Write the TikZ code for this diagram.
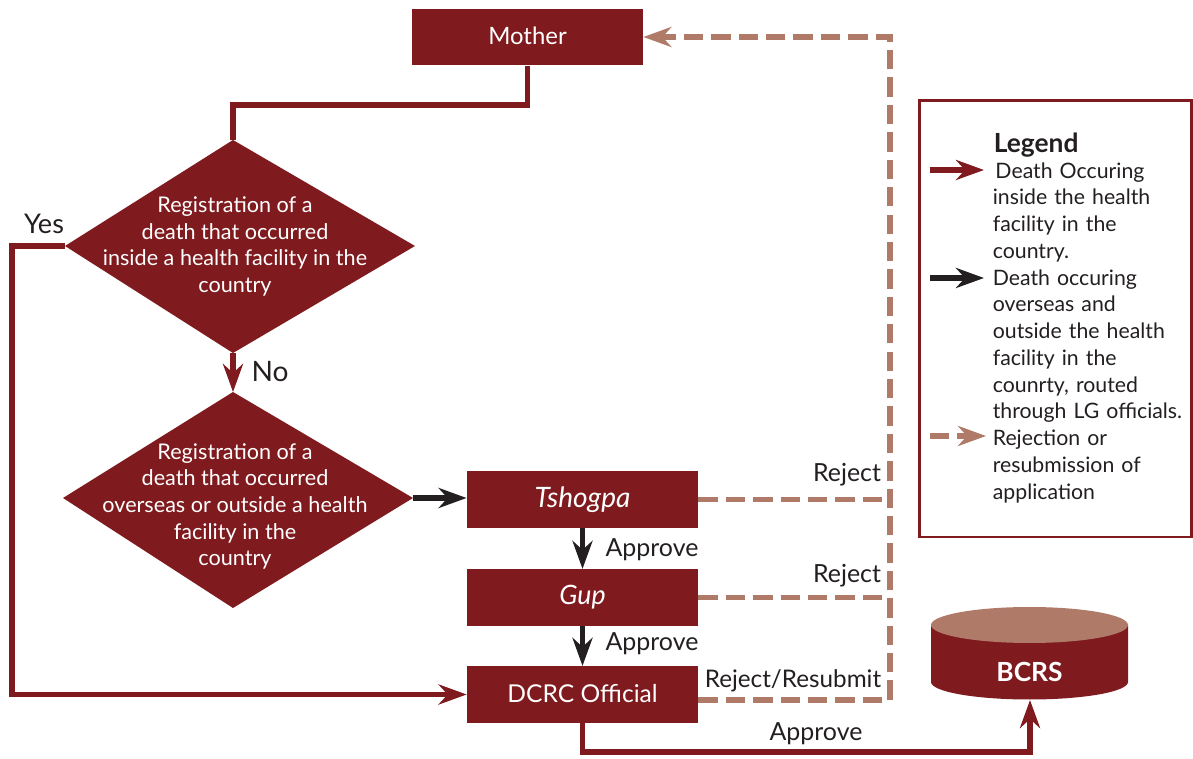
\documentclass[tikz,border=0pt]{standalone}
\usepackage{fontspec}
\setmainfont{Lato}
\usetikzlibrary{arrows.meta}
\definecolor{wine}{HTML}{7F1A1E}
\definecolor{tan}{HTML}{B07A68}
\definecolor{ink}{HTML}{231F20}
\tikzset{
  boxnode/.style={fill=wine,text=white,minimum width=231*0.02cm,minimum height=56.5*0.02cm,inner sep=0pt},
  flowtext/.style={text=white,align=center,inner sep=0pt,font=\fontsize{12.3}{15.2}\selectfont},
  lbl/.style={text=ink,inner sep=0pt,font=\fontsize{14.2}{15.2}\selectfont},
  legendtext/.style={text=ink,align=left,anchor=north west,inner sep=0pt,text width=198*0.02cm,font=\fontsize{12.1}{15.25}\selectfont},
  tip/.style={-{Stealth[length=28*0.02cm,width=20*0.02cm,inset=9*0.02cm]}},
  redline/.style={draw=wine,line width=2.9pt,line join=miter},
  blackline/.style={draw=ink,line width=2.9pt},
  rejectline/.style={draw=tan,line width=2.9pt,dash pattern=on 11pt off 4.6pt}
}
\begin{document}
\begin{tikzpicture}[x=0.02cm,y=-0.02cm]
  \useasboundingbox (0,0) rectangle (1193,759);

  \node[boxnode,font=\fontsize{13.6}{15.2}\selectfont] (mother) at (527.5,37) {\raisebox{1.1pt}{Mother}};
  \node[boxnode,font=\fontsize{16}{15.2}\selectfont\itshape] (tshogpa) at (582.5,499.5) {Tshogpa};
  \node[boxnode,font=\fontsize{15.2}{15.2}\selectfont\itshape] (gup) at (582.5,597.5) {\raisebox{1pt}{Gup}};
  \node[boxnode,font=\fontsize{14}{15.2}\selectfont] (dcrc) at (582.5,694.5) {\raisebox{1.4pt}{DCRC Official}};

  % first decision
  \coordinate (dOneT) at (233,140);
  \coordinate (dOneR) at (415,246);
  \coordinate (dOneB) at (233,353);
  \coordinate (dOneL) at (65,246);
  \fill[wine] (dOneT) -- (dOneR) -- (dOneB) -- (dOneL) -- cycle;
  \node[flowtext] (dOne) at (235,246.5) {Registration of a\\death that occurred\\inside a health facility in the\\country};

  % second decision
  \coordinate (dTwoT) at (233,392);
  \coordinate (dTwoR) at (413,498);
  \coordinate (dTwoB) at (233,608);
  \coordinate (dTwoL) at (63,498);
  \fill[wine] (dTwoT) -- (dTwoR) -- (dTwoB) -- (dTwoL) -- cycle;
  \node[flowtext] (dTwo) at (235,506.5) {Registration of a\\death that occurred\\overseas or outside a health\\facility in the\\country};

  % BCRS
  \fill[wine] (931,625) -- (931,682) arc[start angle=180,end angle=360,x radius=98.5,y radius=-17.5] -- (1128,625) -- cycle;
  \fill[tan] (1029.5,625) ellipse[x radius=98.5,y radius=18];
  \node[text=white,inner sep=0pt,font=\fontsize{15}{15.2}\selectfont\bfseries] (bcrs) at (1029.5,672) {BCRS};
  \coordinate (bcrsB) at (1030,700);

  % red lines
  \draw[redline] (mother.south) |- (233,105) -- (dOneT);
  \draw[redline,tip] (dOneL) -- (12,246) |- (dcrc.west);
  \draw[redline,tip] (dOneB) -- (dTwoT);
  \draw[redline,tip] (dcrc.south) |- (1030,752) -- (bcrsB);

  % black lines
  \draw[blackline,tip] (dTwoR) -- (tshogpa.west |- dTwoR);
  \draw[blackline,tip] (tshogpa.south) -- (gup.north);
  \draw[blackline,tip] (gup.south) -- (dcrc.north);

  % reject lines
  \coordinate (rejTop) at (890,37);
  \coordinate (rejLow) at (890,700);
  \draw[rejectline] (tshogpa.east) -- (tshogpa.east -| rejLow);
  \draw[rejectline] (gup.east) -- (gup.east -| rejLow);
  \draw[rejectline,tip] (dcrc.east |- rejLow) -- (rejLow) -- (rejTop) -- (mother.east |- rejTop);

  \node[lbl,font=\fontsize{15.4}{15.2}\selectfont] (yes) at (44,224) {Yes};
  \node[lbl,font=\fontsize{16}{15.2}\selectfont] (no) at (270,372) {No};
  \node[lbl] (okOne) at (652,550) {Approve};
  \node[lbl] (okTwo) at (652,644) {Approve};
  \node[lbl] (rejOne) at (847,475) {Reject};
  \node[lbl] (rejTwo) at (847,576) {Reject};
  \node[lbl,font=\fontsize{13.8}{15.2}\selectfont] (rejThree) at (793,681) {Reject/Resubmit};
  \node[lbl] (okThree) at (816,734) {Approve};

  % legend
  \draw[wine,line width=1.7pt] (919,101) rectangle (1191,537);
  \node[legendtext,font=\fontsize{15}{15.25}\selectfont\bfseries] (legHead) at (993.5,133) {Legend};
  \node[legendtext] (legA) at (992.5,162) {\hspace*{1.5pt}Death Occuring\\inside the health\\facility in the\\country.};
  \node[legendtext] (legB) at (992.5,269) {Death occuring\\overseas and\\outside the health\\facility in the\\counrty, routed\\through LG officials.};
  \node[legendtext] (legC) at (992.5,430) {Rejection or\\resubmission of\\application};
  \coordinate (keyA) at (930,170);
  \coordinate (keyB) at (930,278);
  \coordinate (keyC) at (930,436);
  \draw[redline,tip] (keyA) -- ++(54,0);
  \draw[blackline,tip] (keyB) -- ++(54,0);
  \draw[rejectline,tip] (keyC) -- ++(56,0);
\end{tikzpicture}
\end{document}
